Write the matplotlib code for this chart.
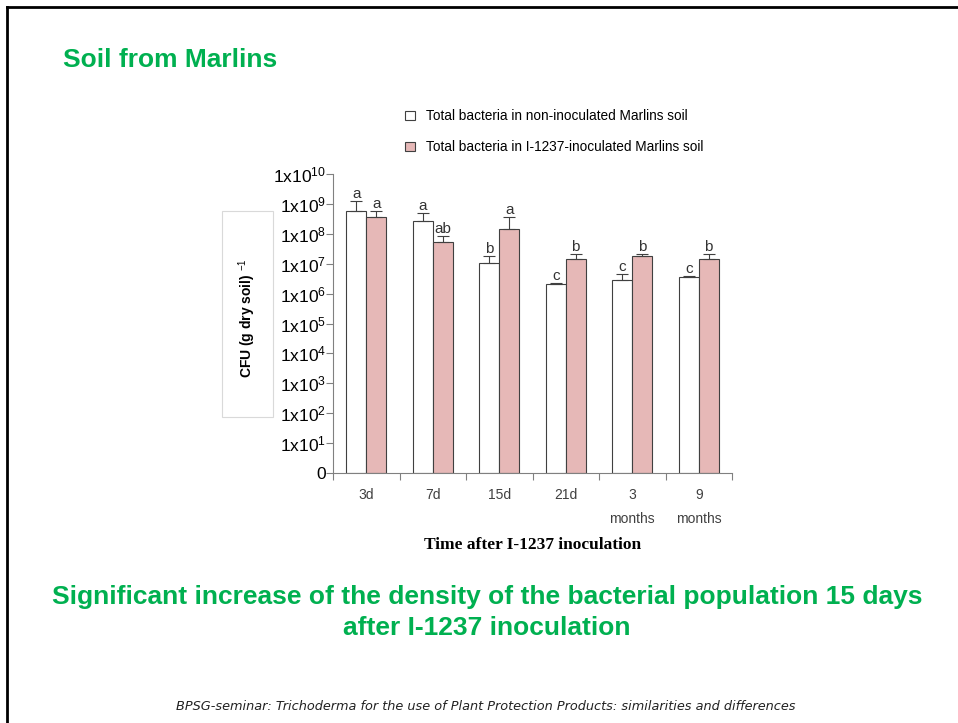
import matplotlib
matplotlib.use('Agg')
import matplotlib.pyplot as plt
from matplotlib.patches import Rectangle
from matplotlib.lines import Line2D
import numpy as np

# log10 CFU per g dry soil
times = ['3d', '7d', '15d', '21d', '3\nmonths', '9\nmonths']
noninoc = [8.77, 8.44, 7.04, 6.33, 6.44, 6.55]
noninoc_err = [0.34, 0.25, 0.23, 0.04, 0.21, 0.05]
inoc = [8.56, 7.72, 8.16, 7.16, 7.27, 7.16]
inoc_err = [0.21, 0.22, 0.39, 0.18, 0.04, 0.18]
letters_non = ['a', 'a', 'b', 'c', 'c', 'c']
letters_inoc = ['a', 'ab', 'a', 'b', 'b', 'b']
ytick_labels = ['0'] + ['1x10$^{%d}$' % i for i in range(1, 11)]

green = '#00B050'
pink = '#E6B8B7'
edge = '#404040'

plt.rcParams['mathtext.fontset'] = 'custom'
plt.rcParams['mathtext.rm'] = 'Liberation Sans'
plt.rcParams['mathtext.it'] = 'Liberation Sans'

fig = plt.figure(figsize=(9.58, 7.23), dpi=100)

# slide frame lines (top and left)
fig.add_artist(Line2D([7/958, 1], [1-7/723, 1-7/723], color='black', lw=2))
fig.add_artist(Line2D([7/958, 7/958], [0, 1-7/723], color='black', lw=2))

fig.text(63/958, 1-60/723, 'Soil from Marlins', color=green, fontsize=19,
         fontweight='bold', family='Liberation Sans', va='center', ha='left')

ax = fig.add_axes([333/958, 1-473/723, 399/958, 299/723])
x = np.arange(len(times))
w = 0.3
ax.bar(x - w/2, noninoc, w, color='white', edgecolor=edge, lw=0.8,
       yerr=[np.zeros(len(x)), noninoc_err], capsize=4,
       error_kw=dict(ecolor=edge, elinewidth=0.8, capthick=0.8),
       label='Total bacteria in non-inoculated Marlins soil')
ax.bar(x + w/2, inoc, w, color=pink, edgecolor=edge, lw=0.8,
       yerr=[np.zeros(len(x)), inoc_err], capsize=4,
       error_kw=dict(ecolor=edge, elinewidth=0.8, capthick=0.8),
       label='Total bacteria in I-1237-inoculated Marlins soil')

for i in range(len(x)):
    ax.annotate(letters_non[i], (x[i] - w/2, noninoc[i] + noninoc_err[i]),
                xytext=(0, 0), textcoords='offset points', ha='center',
                va='bottom', fontsize=11, color='#333333', family='Liberation Sans')
    ax.annotate(letters_inoc[i], (x[i] + w/2, inoc[i] + inoc_err[i]),
                xytext=(0, 0), textcoords='offset points', ha='center',
                va='bottom', fontsize=11, color='#333333', family='Liberation Sans')

ax.set_xlim(-0.5, len(times) - 0.5)
ax.set_ylim(0, 10)
ax.set_yticks(range(11))
ax.set_yticklabels(ytick_labels, family='Liberation Sans', fontsize=12.5)
ax.set_xticks(np.arange(len(times) + 1) - 0.5)
ax.set_xticklabels([])
ax.set_xticks(x, minor=True)
ax.set_xticklabels(times, minor=True, fontsize=10, color='#404040',
                   family='Liberation Sans', va='top', linespacing=1.9)
ax.tick_params(axis='x', which='minor', length=0, pad=11)
ax.tick_params(axis='x', which='major', length=5, color='#808080')
ax.tick_params(axis='y', length=5, pad=0, color='#808080')
for s in ['top', 'right']:
    ax.spines[s].set_visible(False)
for s in ['left', 'bottom']:
    ax.spines[s].set_color('#808080')

ax.set_xlabel('Time after I-1237 inoculation', family='Liberation Serif',
              fontweight='bold', fontsize=12.5, labelpad=8)

# y-label in a light box
fig.add_artist(Rectangle((222/958, 1-417/723), 51/958, 206/723, fill=False,
                         edgecolor='#d9d9d9', lw=0.8, transform=fig.transFigure))
fig.text(247/958, 1-318/723, 'CFU (g dry soil) $^{-1}$', rotation=90,
         fontsize=10, fontweight='bold', family='Liberation Sans',
         ha='center', va='center')

ax.legend(loc='upper left', bbox_to_anchor=(393/958, 1-97/723),
          bbox_transform=fig.transFigure, frameon=False,
          handlelength=0.7, handleheight=0.7, labelspacing=1.25,
          handletextpad=0.8, prop={'family': 'Liberation Sans', 'size': 9.8})

fig.text(487/958, 1-597/723, 'Significant increase of the density of the bacterial population 15 days',
         color=green, fontsize=19, fontweight='bold', family='Liberation Sans',
         ha='center', va='center')
fig.text(487/958, 1-628/723, 'after I-1237 inoculation',
         color=green, fontsize=19, fontweight='bold', family='Liberation Sans',
         ha='center', va='center')

fig.text(486/958, 1-707/723,
         'BPSG-seminar: Trichoderma for the use of Plant Protection Products: similarities and differences',
         fontsize=9.3, style='italic', family='DejaVu Sans', ha='center',
         va='center', color='#222222')

fig.savefig('out.png', dpi=100)
